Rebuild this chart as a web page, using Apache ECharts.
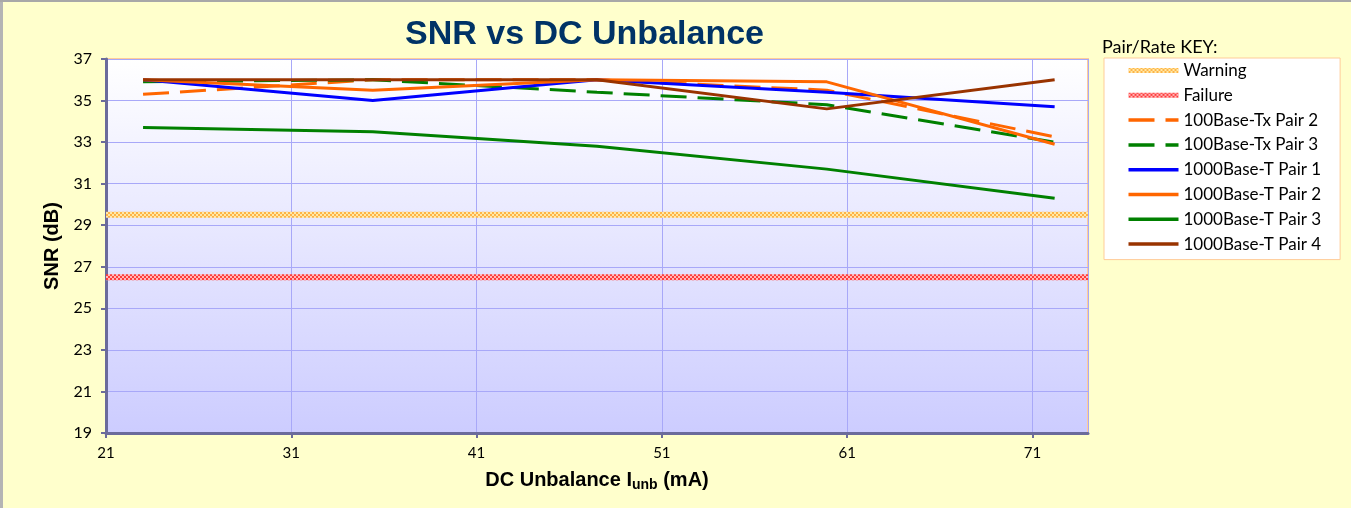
<!DOCTYPE html>
<html>
<head>
<meta charset="utf-8">
<title>SNR vs DC Unbalance</title>
<script src="https://cdn.jsdelivr.net/npm/echarts@6/dist/echarts.min.js"></script>
<style>
  html, body { margin: 0; padding: 0; background: #FFFFCC; }
  #main { width: 1351px; height: 508px; }
</style>
</head>
<body>
<div id="main"></div>
<script>
// DC unbalance current (mA) at each measurement
var currents = [23, 35.4, 47.5, 59.9, 72.2];

// SNR (dB) per pair / rate
var tx100Pair2 = [35.3, 36.0, 36.0, 35.5, 33.25];
var tx100Pair3 = [35.9, 36.0, 35.4, 34.8, 33.0];
var t1000Pair1 = [36.0, 35.0, 36.0, 35.4, 34.7];
var t1000Pair2 = [36.0, 35.5, 36.0, 35.9, 32.9];
var t1000Pair3 = [33.7, 33.5, 32.8, 31.7, 30.3];
var t1000Pair4 = [36.0, 36.0, 36.0, 34.6, 36.0];

// limits
var warningLevel = 29.5;
var failureLevel = 26.5;
var xRange = [21, 74];

var limitNames = ['Warning', 'Failure'];
var pairNames = ['100Base-Tx Pair 2', '100Base-Tx Pair 3', '1000Base-T Pair 1',
  '1000Base-T Pair 2', '1000Base-T Pair 3', '1000Base-T Pair 4'];

function pairUp(ys) {
  return currents.map(function (x, i) { return [x, ys[i]]; });
}

// little dotted texture like the spreadsheet's patterned lines
function makePattern(base, dot) {
  var c = document.createElement('canvas');
  c.width = 4; c.height = 4;
  var ctx = c.getContext('2d');
  ctx.fillStyle = base;
  ctx.fillRect(0, 0, 4, 4);
  ctx.fillStyle = dot;
  ctx.fillRect(0, 0, 2, 2);
  ctx.fillRect(2, 2, 2, 2);
  return { image: c, repeat: 'repeat' };
}

var font = 'Lato, "Open Sans", sans-serif';
var boldFont = '"Liberation Sans", Arial, sans-serif';
var dash = [26, 11];

function lineSeries(name, ys, color, dashed) {
  return {
    name: name,
    type: 'line',
    data: pairUp(ys),
    symbol: 'none',
    lineStyle: { color: color, width: 3, type: dashed ? dash : 'solid' },
    itemStyle: { color: color },
    z: 3
  };
}

function levelSeries(name, level, pattern, color) {
  return {
    name: name,
    type: 'line',
    data: [[xRange[0], level], [xRange[1], level]],
    symbol: 'none',
    lineStyle: { color: pattern, width: 6 },
    itemStyle: { color: color },
    z: 2
  };
}

var legendData = limitNames.map(function (n) {
  return { name: n, lineStyle: { width: 5 } };
}).concat(pairNames.map(function (n) {
  return { name: n, lineStyle: { width: 3.5 } };
}));

var chart = echarts.init(document.getElementById('main'));

chart.setOption({
  backgroundColor: '#FFFFCC',
  animation: false,
  title: [
    {
      text: 'SNR vs DC Unbalance',
      left: 400,
      top: 13,
      textStyle: { fontFamily: boldFont, fontWeight: 'bold', fontSize: 34, color: '#003366' }
    },
    {
      text: 'Pair/Rate KEY:',
      left: 1102,
      top: 38,
      padding: 0,
      textStyle: { fontFamily: font, fontWeight: 'normal', fontSize: 18, color: '#000' }
    }
  ],
  graphic: [
    { type: 'rect', left: 0, top: 0, shape: { width: 3, height: 508 }, style: { fill: '#B4B4B4' }, silent: true },
    { type: 'rect', left: 0, top: 0, shape: { width: 1351, height: 2 }, style: { fill: '#A8A8A8' }, silent: true }
  ],
  legend: {
    orient: 'vertical',
    left: 1104,
    top: 58,
    padding: [4, 19, 7, 22],
    itemWidth: 50,
    itemHeight: 15,
    itemGap: 7.8,
    backgroundColor: '#fff',
    borderColor: '#FFCC99',
    borderWidth: 1,
    itemStyle: { opacity: 0 },
    lineStyle: { width: 'inherit' },
    textStyle: { fontFamily: font, fontSize: 17, lineHeight: 15, color: '#000' },
    data: legendData
  },
  grid: {
    left: 106,
    top: 59,
    right: 263,
    bottom: 75,
    show: true,
    borderColor: '#FFCC99',
    borderWidth: 2,
    backgroundColor: new echarts.graphic.LinearGradient(0, 0, 0, 1, [
      { offset: 0, color: '#FFFFFF' },
      { offset: 1, color: '#CCCCFF' }
    ])
  },
  xAxis: {
    type: 'value',
    min: xRange[0],
    max: xRange[1],
    interval: 10,
    name: '{b|DC Unbalance I}{s|unb}{b| (mA)}',
    nameLocation: 'middle',
    nameGap: 35,
    nameTextStyle: {
      rich: {
        b: { fontFamily: boldFont, fontWeight: 'bold', fontSize: 20, color: '#000' },
        s: { fontFamily: boldFont, fontWeight: 'bold', fontSize: 14, color: '#000', padding: [10, 0, 0, 0] }
      }
    },
    axisLine: { show: true, lineStyle: { color: '#6B6B9B', width: 3 } },
    axisTick: { show: true, length: 5, lineStyle: { color: '#6B6B9B', width: 2 } },
    axisLabel: { fontFamily: font, fontSize: 15, color: '#000', margin: 13, showMaxLabel: false },
    splitLine: { show: true, lineStyle: { color: '#A8A8F8', width: 1 } }
  },
  yAxis: {
    type: 'value',
    min: 19,
    max: 37,
    interval: 2,
    name: 'SNR (dB)',
    nameLocation: 'middle',
    nameGap: 44,
    nameTextStyle: { fontFamily: boldFont, fontWeight: 'bold', fontSize: 20, color: '#000' },
    axisLine: { show: true, lineStyle: { color: '#6B6B9B', width: 3 } },
    axisTick: { show: true, length: 5, lineStyle: { color: '#6B6B9B', width: 2 } },
    axisLabel: { fontFamily: font, fontSize: 16, color: '#000', margin: 14 },
    splitLine: { show: true, lineStyle: { color: '#A8A8F8', width: 1 } }
  },
  series: [
    levelSeries('Warning', warningLevel, makePattern('#FFE9A8', '#FFB347'), '#FFC870'),
    levelSeries('Failure', failureLevel, makePattern('#FFB8B8', '#FF3C3C'), '#FF7070'),
    lineSeries('100Base-Tx Pair 2', tx100Pair2, '#FF6600', true),
    lineSeries('100Base-Tx Pair 3', tx100Pair3, '#008000', true),
    lineSeries('1000Base-T Pair 1', t1000Pair1, '#0000FF', false),
    lineSeries('1000Base-T Pair 2', t1000Pair2, '#FF6600', false),
    lineSeries('1000Base-T Pair 3', t1000Pair3, '#008000', false),
    lineSeries('1000Base-T Pair 4', t1000Pair4, '#993300', false)
  ]
});
</script>
</body>
</html>
